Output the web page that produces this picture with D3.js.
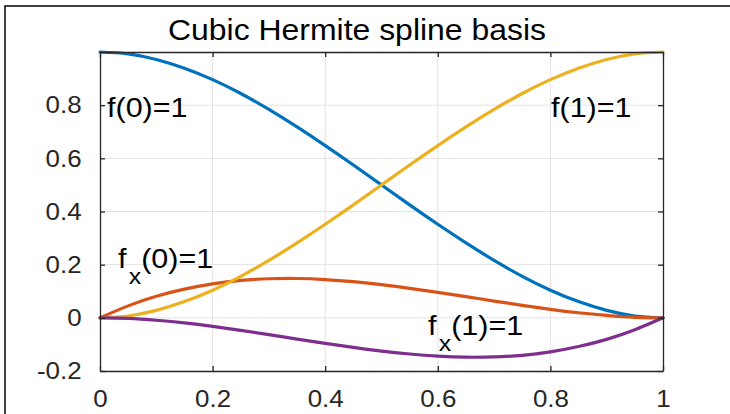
<!DOCTYPE html>
<html>
<head>
<meta charset="utf-8">
<script src="https://cdn.jsdelivr.net/npm/d3@7"></script>
<style>
  body { margin: 0; background: #fff; }
  svg { display: block; font-family: "Liberation Sans", Arial, sans-serif; }
</style>
</head>
<body>
<svg id="chart" width="730" height="414"></svg>
<script>
// sample positions along x
const xs = [0, 0.05, 0.1, 0.15, 0.2, 0.25, 0.3, 0.35, 0.4, 0.45, 0.5,
  0.55, 0.6, 0.65, 0.7, 0.75, 0.8, 0.85, 0.9, 0.95, 1]

// basis curves
const f0 = [1, 0.993, 0.972, 0.939, 0.896, 0.844, 0.784, 0.718, 0.648, 0.575, 0.5,
  0.425, 0.352, 0.282, 0.216, 0.156, 0.104, 0.061, 0.028, 0.007, 0]
const fx0 = [0, 0.045, 0.081, 0.108, 0.128, 0.141, 0.147, 0.148, 0.144, 0.136, 0.125,
  0.111, 0.096, 0.080, 0.063, 0.047, 0.032, 0.019, 0.009, 0.002, 0]
const f1 = [0, 0.007, 0.028, 0.061, 0.104, 0.156, 0.216, 0.282, 0.352, 0.425, 0.5,
  0.575, 0.648, 0.718, 0.784, 0.844, 0.896, 0.939, 0.972, 0.993, 1]
const fx1 = [0, -0.002, -0.009, -0.019, -0.032, -0.047, -0.063, -0.080, -0.096, -0.111, -0.125,
  -0.136, -0.144, -0.148, -0.147, -0.141, -0.128, -0.108, -0.081, -0.045, 0]

const xTicks = [0, 0.2, 0.4, 0.6, 0.8, 1]
const yTicks = [-0.2, 0, 0.2, 0.4, 0.6, 0.8]

const series = [
  { values: f0, color: '#0072BD' },
  { values: fx0, color: '#D95319' },
  { values: f1, color: '#EDB120' },
  { values: fx1, color: '#7E2F8E' },
]

const svg = d3.select('#chart')
const axisColor = '#262626'

const x = d3.scaleLinear([0, 1], [100, 663])
const y = d3.scaleLinear([-0.2, 1], [371, 52])

// figure frame (left + top edges only)
svg.append('path')
  .attr('d', 'M5,414 L5,6 L730,6')
  .attr('fill', 'none')
  .attr('stroke', '#000')
  .attr('stroke-width', 1.5)

// grid
const grid = svg.append('g').attr('stroke', '#e3e3e3').attr('stroke-width', 1)
grid.selectAll('.gx').data(xTicks.slice(1, -1)).join('line')
  .attr('x1', d => x(d)).attr('x2', d => x(d))
  .attr('y1', y(-0.2)).attr('y2', y(1))
grid.selectAll('.gy').data(yTicks.slice(1)).join('line')
  .attr('x1', x(0)).attr('x2', x(1))
  .attr('y1', d => y(d)).attr('y2', d => y(d))

// curves
const line = d3.line()
  .x((d, i) => x(xs[i]))
  .y(d => y(d))
  .curve(d3.curveNatural)

svg.append('g').selectAll('path').data(series).join('path')
  .attr('d', d => line(d.values))
  .attr('fill', 'none')
  .attr('stroke', d => d.color)
  .attr('stroke-width', 3.2)
  .attr('stroke-linecap', 'round')

// axes, MATLAB-ish: ticks pointing inward, box on
function styleAxis(g) {
  g.selectAll('path.domain').attr('stroke', axisColor).attr('stroke-width', 1.3)
  g.selectAll('.tick line').attr('stroke', axisColor).attr('stroke-width', 1.3)
  g.selectAll('.tick text').attr('fill', axisColor).attr('font-size', 24)
    .attr('font-family', '"Liberation Sans", Arial, sans-serif')
    .attr('transform', 'scale(1.08,1)')
}

svg.append('g')
  .attr('transform', `translate(0,${y(-0.2)})`)
  .call(d3.axisBottom(x).tickValues(xTicks).tickFormat(String)
    .tickSizeInner(-5).tickSizeOuter(0).tickPadding(19))
  .call(styleAxis)

svg.append('g')
  .attr('transform', `translate(0,${y(1)})`)
  .call(d3.axisTop(x).tickValues(xTicks).tickFormat('')
    .tickSizeInner(-5).tickSizeOuter(0))
  .call(styleAxis)

svg.append('g')
  .attr('transform', `translate(${x(0)},0)`)
  .call(d3.axisLeft(y).tickValues(yTicks).tickFormat(String)
    .tickSizeInner(-5).tickSizeOuter(0).tickPadding(17))
  .call(styleAxis)

svg.append('g')
  .attr('transform', `translate(${x(1)},0)`)
  .call(d3.axisRight(y).tickValues(yTicks).tickFormat('')
    .tickSizeInner(-5).tickSizeOuter(0))
  .call(styleAxis)

svg.selectAll('.domain').attr('fill', 'none')

// title
svg.append('text')
  .attr('x', 168).attr('y', 40)
  .attr('font-size', 30)
  .attr('fill', '#000')
  .attr('textLength', 378)
  .attr('lengthAdjust', 'spacingAndGlyphs')
  .text('Cubic Hermite spline basis')

// curve labels
const labels = [
  { x: 107, y: 117, main: 'f', sub: null, rest: '(0)=1' },
  { x: 551, y: 117, main: 'f', sub: null, rest: '(1)=1' },
  { x: 118, y: 268, main: 'f', sub: 'x', rest: '(0)=1' },
  { x: 428, y: 335, main: 'f', sub: 'x', rest: '(1)=1' },
]

labels.forEach(l => {
  const t = svg.append('text')
    .attr('transform', `translate(${l.x},${l.y}) scale(1.13,1)`)
    .attr('font-size', 27)
    .attr('fill', '#000')
  t.append('tspan').text(l.main)
  if (l.sub) {
    t.append('tspan').attr('dy', 16).attr('dx', 2).attr('font-size', 22).text(l.sub)
    t.append('tspan').attr('dy', -16).text(l.rest)
  } else {
    t.append('tspan').text(l.rest)
  }
})
</script>
</body>
</html>
